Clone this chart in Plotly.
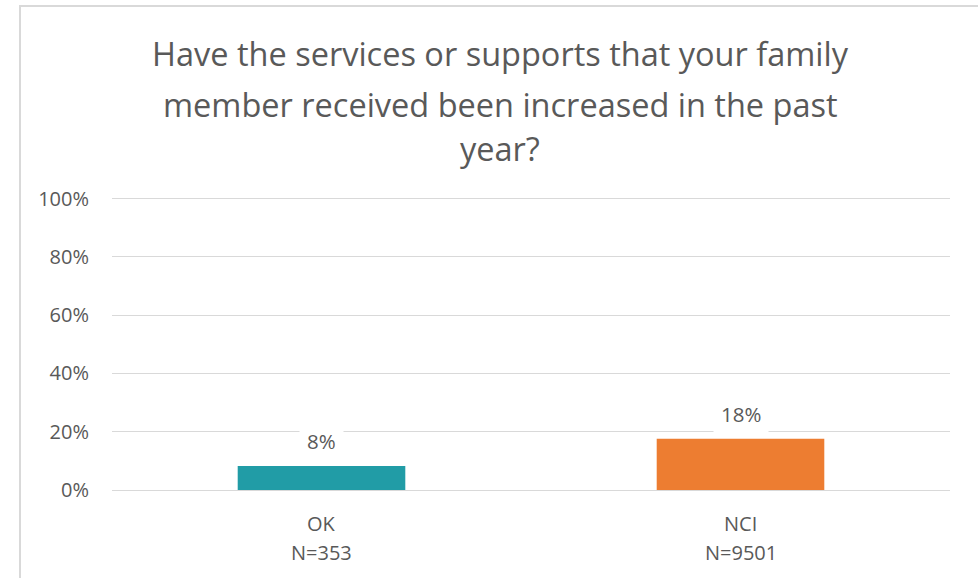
import plotly.graph_objects as go

# ── Data ─────────────────────────────────────────────────────────────────────
categories = ["OK", "NCI"]
sample_sizes = ["N=353", "N=9501"]
shares = [0.082, 0.176]
bar_colors = ["#219ca6", "#ed7d31"]
title_lines = [
    "Have the services or supports that your family",
    "member received been increased in the past",
    "year?",
]

TEXT = "#595959"
GRID = "#d9d9d9"
FONT = "Open Sans, sans-serif"

W, H = 978, 578
L, R, T, B = 112, 28, 196, 88
PW, PH = W - L - R, H - T - B
Y_TOP = PH / 291.5  # keeps 100% gridline just inside the plot area


def px_x(x):
    return (x - L) / PW


def px_y(y):
    return (H - B - y) / PH


fig = go.Figure(go.Bar(
    x=categories, y=shares, width=0.4,
    marker=dict(color=bar_colors, line=dict(width=0)),
    hoverinfo="skip",
))

annotations = []
# data labels with white boxes
for cat, v in zip(categories, shares):
    annotations.append(dict(
        x=cat, y=v, xref="x", yref="y", text=f"{v:.0%}", showarrow=False,
        yanchor="middle", yshift=25, bgcolor="white", borderpad=7,
        font=dict(size=20.5, color=TEXT, family=FONT),
    ))
# category labels + sample sizes
for cat, n in zip(categories, sample_sizes):
    annotations.append(dict(x=cat, y=px_y(523), xref="x", yref="paper", text=cat,
                            showarrow=False, yanchor="middle",
                            font=dict(size=20, color=TEXT, family=FONT)))
    annotations.append(dict(x=cat, y=px_y(552), xref="x", yref="paper", text=n,
                            showarrow=False, yanchor="middle",
                            font=dict(size=20, color=TEXT, family=FONT)))
# title, one line at a time
for line, yc in zip(title_lines, [54, 104, 148]):
    annotations.append(dict(x=px_x(500), y=px_y(yc), xref="paper", yref="paper",
                            text=line, showarrow=False, yanchor="middle",
                            xanchor="center",
                            font=dict(size=32.5, color=TEXT, family=FONT)))

fig.update_layout(
    width=W, height=H,
    margin=dict(l=L, r=R, t=T, b=B),
    paper_bgcolor="white", plot_bgcolor="white",
    showlegend=False,
    font=dict(family=FONT, color=TEXT, size=20),
    xaxis=dict(showticklabels=False, showgrid=False, showline=False, zeroline=False),
    yaxis=dict(range=[0, Y_TOP], tickvals=[0, 0.2, 0.4, 0.6, 0.8, 1.0],
               tickformat=".0%", showgrid=True,
               gridcolor=GRID, gridwidth=1, zeroline=True, zerolinecolor=GRID,
               zerolinewidth=1, showline=False, ticks="", ticklabelstandoff=22,
               tickfont=dict(size=20, color=TEXT, family=FONT)),
    annotations=annotations,
    shapes=[dict(type="rect", xref="paper", yref="paper",
                 x0=px_x(20), x1=px_x(1000), y0=px_y(600), y1=px_y(6),
                 line=dict(color=GRID, width=2), layer="below")],
)

fig.write_html("out.html", config={"displayModeBar": False},
               post_script="document.body.style.margin='0';")
